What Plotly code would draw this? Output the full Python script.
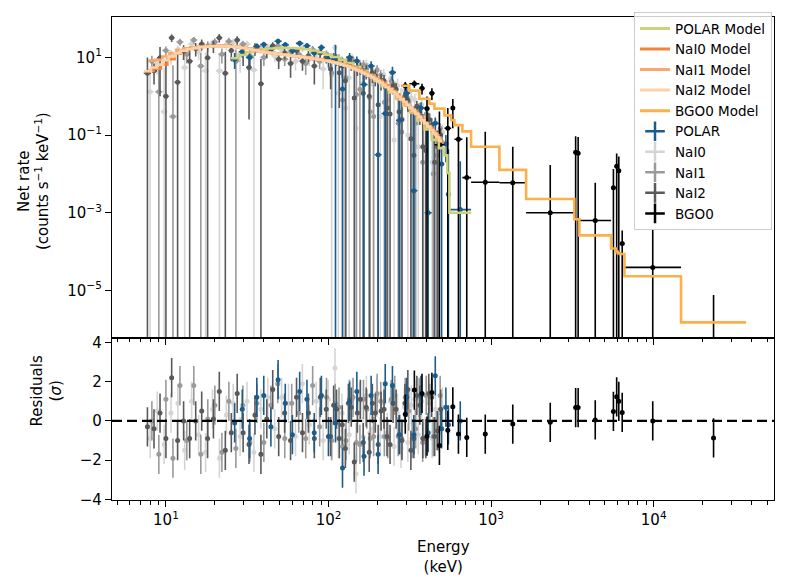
import plotly.graph_objects as go

# ---- data (rates in counts/s/keV, energies in keV) ----

# POLAR
polar_edges = [25, 28, 31, 34.5, 38, 42, 46.5, 51.5, 57, 63, 70, 77.5, 86, 95, 105, 116, 128,
               142, 157, 174, 192, 212, 235, 260, 288, 318, 352, 390, 431, 477, 516, 538, 554, 753]
polar_rate = [9, 14, 10, 19, 21.4, 16, 26, 21, 15, 23, 20, 13, 18, 9, 8.9, 1.53, 10, 8.1, 2.0, 6,
              0.031, 0.36, 4.1, 0.24, 1.2, 0.0037, 0.5, 0.001, 0.2, 0.018, 0.06, 0.003, 0.0012]
polar_err = [4, 4, 4, 3.5, 4, 3.5, 4, 3.5, 3.5, 4, 3.5, 3.5, 3.5, 3.5, 12, 8.3, 3, 2.5, 3.2, 2,
             2.8, 1.4, 1.6, 0.9, 0.5, 0.55, 0.2, 0.25, 0.08, 0.08, 0.04, 0.04, 0.02]
polar_model = [9.5, 11.5, 13.5, 15, 16.2, 17, 17.5, 17.7, 17.5, 17, 16.2, 15, 13.5, 11.8, 10.2,
               8.6, 7.1, 5.7, 4.5, 3.4, 2.5, 1.8, 1.25, 0.85, 0.58, 0.38, 0.24, 0.14, 0.075,
               0.046, 0.03, 0.0105, 0.001]
polar_resid = [-0.1, 0.6, -0.9, 1.2, 1.3, -0.3, 2.1, 0.9, -0.7, 1.5, 1.1, -0.6, 1.3, -0.8, -0.1,
               -2.4, 1.0, 1.5, -1.8, 1.3, -1.7, 1.9, 1.8, -0.7, 1.2, -0.7, 1.3, -0.6, 2.3, -0.4,
               0.7, -0.2, 0.0]

# NaI0
nai0_edges = [7.6, 8.4, 9.3, 10.2, 11.3, 12.4, 13.7, 15.1, 16.7, 18.4, 20.3, 22.4, 24.7, 27.2,
              30.0, 33.1, 36.5, 40.3, 44.4, 49.0, 54.0, 59.6, 65.7, 72.5, 80.0, 88.2, 97.3,
              102, 107, 112, 118, 124, 131, 137, 144, 151, 159, 167, 175, 184, 193, 203, 213,
              224, 235, 247, 259, 272, 286, 300, 315, 331, 348, 365, 383, 403, 423, 444, 466,
              490, 514]
nai0_rate = [1.3, 6.8, 0.4, 11, 16, 5.5, 22, 14, 4.5, 23, 4.5, 21, 24, 12, 22, 4.7, 17, 18, 11,
             16, 14, 8, 17, 9, 12, 5,
             11, 3.5, 18, 1.2, 8, 0.5, 3.0, 9, 0.15, 6.5, 2.2, 6.5, 0.9, 2.0, 4.5, 0.3, 3.6,
             0.8, 2.8, 0.074, 1.9, 0.45, 1.4, 0.1, 0.9, 0.8, 0.05, 0.6, 0.06, 0.33, 0.02, 0.2,
             0.04, 0.12]
nai0_err = [3.5, 3.2, 5.0, 4.5, 4.0, 6.5, 5.0, 5.5, 9, 6, 8, 6, 6, 8, 5, 7, 4.5, 4, 3.5, 3.5,
            3.2, 3.5, 3.5, 3, 3, 3.5,
            3, 4.5, 4, 6, 3, 5.5, 4, 3, 5.5, 2.5, 3.5, 2.5, 3.2, 3.0, 1.6, 3.0, 1.4, 1.8, 1.2,
            1.0, 0.9, 1.2, 0.7, 0.45, 0.5, 0.35, 0.5, 0.3, 0.25, 0.15, 0.2, 0.1, 0.12, 0.07]
nai0_model = [4.5, 5.2, 6.5, 9.0, 12.5, 15, 17, 18, 18.8, 19.3, 19.5, 19.3, 18.8, 18, 17, 15.6,
              14.2, 13.2, 12.4, 11.8, 11.2, 10.7, 10.2, 9.6, 9.0, 8.4,
              8.1, 7.9, 7.5, 7.2, 6.8, 6.5, 6.1, 5.7, 5.3, 4.9, 4.4, 4.0, 3.6, 3.2, 2.85, 2.5,
              2.2, 1.9, 1.6, 1.35, 1.12, 0.9, 0.73, 0.58, 0.48, 0.40, 0.33, 0.27, 0.21, 0.17,
              0.14, 0.11, 0.085, 0.068]
nai0_resid = [-0.9, 0.5, -1.2, 0.4, 0.9, -1.5, 1.0, -0.7, -1.6, 0.6, -1.9, 0.3, 0.9, -0.8, 1.0,
              -1.6, 0.6, 1.2, -0.4, 1.2, 0.9, -0.8, 1.9, -0.2, 1.0, -1.0,
              1.1, -1.0, 2.7, -0.9, 0.4, -1.2, -0.7, 1.1, -2.7, 1.0, -0.8, 1.3, -0.6, -0.4, 1.2,
              -0.8, 0.9, -0.6, 1.0, -1.3, 0.4, -1.4, 0.7, -1.1, 0.8, 1.1, -0.7, 1.0, -0.8, 1.1,
              -0.9, 0.6, -0.6, 0.7]

# NaI1
nai1_edges = [7.8, 8.6, 9.5, 10.5, 11.6, 12.8, 14.1, 15.6, 17.2, 19.0, 21.0, 23.2, 25.6, 28.3,
              31.2, 34.5, 38.1, 42.0, 46.4, 51.2, 56.5, 62.4, 68.9, 76.0, 83.9, 92.6, 102,
              107, 113, 119, 125, 131, 138, 145, 152, 160, 168, 176, 185, 194, 204, 215, 226,
              237, 249, 262, 275, 289, 304, 319, 335, 352, 370, 389, 409, 430, 451, 474, 498]
nai1_rate = [8, 1.3, 15, 0.3, 25, 12, 28, 6, 20, 25, 12, 26, 8, 22, 11, 19, 10, 16, 20, 9, 14,
             12, 7, 16, 8, 12,
             4, 10, 9, 0.8, 3, 8.5, 8, 1.1, 1.5, 6.5, 5, 0.4, 0.3, 4.8, 3.5, 0.7, 0.5, 2.4,
             1.8, 0.2, 0.12, 1.1, 0.7, 0.08, 0.2, 0.5, 0.02, 0.35, 0.25, 0.01, 0.03, 0.15]
nai1_err = [3, 3.5, 4, 6, 5, 5, 5.5, 7, 6, 6, 5, 6, 8, 5, 5, 4, 4, 3.5, 4, 3, 3, 3, 3.5, 3.5,
            3, 3,
            3.5, 3, 3, 4.5, 3, 2.5, 2.5, 3.5, 2.5, 2, 2, 3, 3, 1.5, 1.2, 1.8, 1.2, 0.8, 0.6,
            1.0, 0.6, 0.35, 0.3, 0.4, 0.25, 0.17, 0.2, 0.12, 0.1, 0.15, 0.1, 0.05]
nai1_model = [8.3, 8.6, 10.5, 13, 15.5, 17.2, 18.3, 19, 19.6, 20, 20.1, 19.8, 19.1, 18, 16.8,
              15.5, 14.3, 13.3, 12.5, 11.8, 11.2, 10.7, 10.2, 9.6, 9.0, 8.3,
              7.8, 7.4, 7.0, 6.6, 6.2, 5.8, 5.4, 5.0, 4.6, 4.2, 3.8, 3.4, 3.05, 2.7, 2.35, 2.05,
              1.75, 1.5, 1.25, 1.0, 0.84, 0.68, 0.56, 0.45, 0.37, 0.30, 0.24, 0.19, 0.155,
              0.125, 0.1, 0.08]
nai1_resid = [0.0, -1.7, 1.1, -1.9, 1.8, -1.0, 1.8, -1.7, 0.1, 0.8, -1.6, 1.0, -1.4, 0.8, -1.1,
              0.9, -1.1, 0.8, 1.9, -0.9, 0.9, 0.4, -0.9, 1.8, -0.3, 1.2,
              -1.0, 0.9, 0.7, -1.3, -1.0, 1.1, 1.2, -1.1, -1.2, 1.1, 0.6, -0.9, -0.8, 1.4, 1.0,
              -0.8, -0.9, 1.1, 1.3, -0.8, -0.9, 1.2, 0.5, -0.9, -0.4, 1.2, -1.1, 1.3, 0.9,
              -0.8, -0.5, 1.3]

# NaI2
nai2_edges = [7.3, 8.1, 8.8, 9.6, 10.4, 11.3, 12.3, 13.4, 14.6, 15.9, 17.3, 18.8, 20.4, 22.2,
              24.2, 26.3, 28.6, 31.1, 33.8, 36.8, 40.0, 43.5, 47.3, 51.5, 56.0, 60.9, 66.3,
              72.1, 78.4, 85.3, 92.8, 101,
              105, 110, 114, 119, 124, 130, 135, 141, 147, 154, 160, 167, 174, 182, 190, 198,
              206, 215, 224, 234, 244, 255, 266, 277, 289, 301, 314, 328, 342, 357, 372, 388,
              405, 422, 440, 459, 479, 500]
nai2_rate = [3.9, 4.5, 9.8, 1.0, 32, 2.3, 14.5, 8, 17, 22, 9.8, 20, 32, 3.9, 15, 28, 13, 5.5,
             17, 2.1, 14, 20, 9, 13, 7, 15, 8, 11, 6, 13, 10,
             5, 10, 9, 4, 6, 2.5, 8, 7, 0.9, 5.5, 5.5, 1.2, 4.5, 1.0, 4, 3.3, 0.6, 2.6, 2.5,
             0.5, 0.35, 1.9, 1.5, 0.4, 0.25, 1.0, 0.8, 0.08, 0.03, 0.55, 0.38, 0.05, 0.04,
             0.25, 0.18, 0.02, 0.05, 0.1]
nai2_err = [6, 2.5, 8.8, 8, 7, 10, 6, 9, 6.5, 7, 10, 7, 8, 10, 7, 7, 7, 5.25, 6, 7, 4.5, 4.5,
            4, 4, 4, 3.5, 3.5, 3.5, 4, 3.5, 3,
            3.5, 3, 3, 3.5, 3, 3.5, 2.5, 2.5, 4.5, 2.2, 2, 2.5, 1.8, 2.5, 1.8, 1.5, 1.8, 1.2,
            1.0, 1.5, 1.2, 0.8, 0.7, 0.8, 0.6, 0.4, 0.4, 0.5, 0.35, 0.2, 0.2, 0.3, 0.2, 0.12,
            0.09, 0.12, 0.08, 0.05]
nai2_model = [4.4, 5.5, 6.5, 8.5, 10.5, 12.8, 14.8, 16.2, 17.3, 18.2, 18.8, 19.2, 19.4, 19.3,
              18.9, 18.3, 17.4, 16.3, 15.2, 14.2, 13.4, 12.7, 12.1, 11.6, 11.1, 10.7, 10.2, 9.7,
              9.2, 8.7, 8.1,
              7.7, 7.4, 7.1, 6.8, 6.5, 6.1, 5.8, 5.4, 5.1, 4.7, 4.4, 4.0, 3.7, 3.35, 3.05, 2.75,
              2.45, 2.2, 1.95, 1.7, 1.5, 1.3, 1.12, 0.97, 0.83, 0.71, 0.6, 0.5, 0.42, 0.35,
              0.29, 0.24, 0.2, 0.165, 0.135, 0.11, 0.088, 0.07]
nai2_resid = [-0.3, -0.4, 0.4, -0.9, 2.2, -1.0, 0.0, -0.9, 0.0, 0.5, -0.9, 0.1, 1.5, -1.5, -0.6,
              1.4, -0.6, -1.2, 0.3, -1.7, 0.1, 1.6, -0.8, 0.4, -1.0, 1.2, -0.6, 0.4, -0.9, 1.2,
              0.6,
              -0.8, 0.8, 0.6, -0.9, -0.2, -1.4, 0.9, 0.7, -2.1, 0.4, 1.1, -1.1, 0.7, -1.6, 0.9,
              0.4, -1.2, 0.5, 0.6, -0.8, -1.2, 0.9, 0.6, -0.7, -1.0, 0.9, 1.6, -1.5, -0.9, 1.3,
              0.8, -0.9, -0.9, 1.4, 1.2, -0.8, -0.5, 0.6]

# BGO0
bgo0_edges = [280, 314, 362, 390, 417, 448, 516, 568, 595, 666, 753, 1125, 1641, 3252, 3370,
              3490, 5470, 5840, 6000, 6200, 6610, 14730, 37000]
bgo0_rate = [1.86, 2.1, 1.6, 0.48, 1.2, 0.056, 0.15, 0.5, 0.078, 0.008, 0.0061, 0.0059, 0.001,
             0.036, 0.034, 0.00063, 0.0044, 0.0157, 0.012, 0.00016, 0.000039, 3e-7]
bgo0_err = [0.45, 0.45, 0.5, 0.5, 0.4, 0.35, 0.35, 0.35, 0.09, 0.08, 0.115, 0.044, 0.016, 0.057,
            0.055, 0.0053, 0.009, 0.018, 0.016, 0.00019, 0.00033, 0.0000073]
bgo0_model = [1.86, 1.39, 0.86, 0.86, 0.64, 0.48, 0.32, 0.24, 0.18, 0.124, 0.05, 0.0127, 0.00225,
              0.00068, 0.00068, 0.00026, 0.00012, 0.0001, 0.00009, 0.000086, 0.000023, 0.0000015]
bgo0_resid = [0.34, 1.57, 1.4, -0.78, 1.45, -1.25, -0.48, 0.72, -0.67, -0.84, -0.67, -0.16,
              -0.07, 0.68, 0.68, 0.05, 0.48, 1.23, 1.0, 0.43, 0.0, -0.87]

# name, edges, rate, err, model, resid, data colour, model colour (legend order)
detectors = [
    ('POLAR', polar_edges, polar_rate, polar_err, polar_model, polar_resid, '#1b5c8b', '#cdd17c'),
    ('NaI0', nai0_edges, nai0_rate, nai0_err, nai0_model, nai0_resid, '#d4d4d4', '#f4843c'),
    ('NaI1', nai1_edges, nai1_rate, nai1_err, nai1_model, nai1_resid, '#9a9a9a', '#fba66a'),
    ('NaI2', nai2_edges, nai2_rate, nai2_err, nai2_model, nai2_resid, '#595959', '#fdd1a6'),
    ('BGO0', bgo0_edges, bgo0_rate, bgo0_err, bgo0_model, bgo0_resid, '#000000', '#fcb04c'),
]
# drawing order: the NaI clouds underneath, POLAR and BGO on top
draw_order = [1, 2, 3, 0, 4]

fig = go.Figure()

for i in draw_order:
    name, edges, rate, err, model, resid, dcol, mcol = detectors[i]
    n = len(edges) - 1
    assert len(rate) == len(err) == len(model) == len(resid) == n, (
        name, n, len(rate), len(err), len(model), len(resid))
    x = [(lo * hi) ** 0.5 for lo, hi in zip(edges[:-1], edges[1:])]
    xlo = [c - lo for c, lo in zip(x, edges[:-1])]
    xhi = [hi - c for c, hi in zip(x, edges[1:])]
    fig.add_trace(go.Scatter(
        x=x, y=rate, mode='markers', xaxis='x', yaxis='y', showlegend=False,
        marker=dict(color=dcol, size=5),
        error_x=dict(type='data', symmetric=False, array=xhi, arrayminus=xlo,
                     color=dcol, thickness=1.6, width=0),
        error_y=dict(type='data', array=err, color=dcol, thickness=1.6, width=0)))
    fig.add_trace(go.Scatter(
        x=x, y=resid, mode='markers', xaxis='x2', yaxis='y2', showlegend=False,
        marker=dict(color=dcol, size=5),
        error_y=dict(type='constant', value=1, color=dcol, thickness=1.6, width=0)))

# model step lines on top of the data
for name, edges, rate, err, model, resid, dcol, mcol in detectors:
    fig.add_trace(go.Scatter(
        x=edges, y=model + [model[-1]], mode='lines', xaxis='x', yaxis='y',
        showlegend=False, line=dict(color=mcol, width=2.6, shape='hv')))

# legend entries (models first, then data, like matplotlib does)
for name, edges, rate, err, model, resid, dcol, mcol in detectors:
    fig.add_trace(go.Scatter(x=[None], y=[None], mode='lines', name=name + ' Model',
                             line=dict(color=mcol, width=3)))
for name, edges, rate, err, model, resid, dcol, mcol in detectors:
    fig.add_trace(go.Scatter(x=[None], y=[None], mode='markers', name=name,
                             marker=dict(symbol='cross-thin', size=14, color=dcol,
                                         line=dict(width=2.5, color=dcol))))

minor_x = [m * 10 ** k for k in range(0, 5) for m in range(2, 10)]
axis_style = dict(showline=True, linecolor='black', linewidth=1.3, mirror=True,
                  ticks='outside', ticklen=6, tickwidth=1.3, tickcolor='black',
                  showgrid=False, zeroline=False, tickfont=dict(size=15, color='black'))
x_ticks = dict(type='log', range=[0.668, 4.74], tickmode='array',
               tickvals=[10, 100, 1000, 10000],
               ticktext=['10<sup>1</sup>', '10<sup>2</sup>', '10<sup>3</sup>', '10<sup>4</sup>'],
               minor=dict(tickmode='array', tickvals=minor_x, ticks='outside', ticklen=3.5,
                          tickwidth=1, tickcolor='black'))

fig.update_layout(
    width=788, height=587,
    margin=dict(l=112, r=14, t=12, b=87),
    paper_bgcolor='white', plot_bgcolor='white',
    font=dict(family='DejaVu Sans', size=15, color='black'),
    xaxis=dict(anchor='y', showticklabels=False, **x_ticks, **axis_style),
    xaxis2=dict(anchor='y2', matches='x', **x_ticks, **axis_style),
    yaxis=dict(anchor='x', domain=[0.336, 1], type='log', range=[-6.22, 2.04],
               tickmode='array', tickvals=[10, 0.1, 1e-3, 1e-5],
               ticktext=['10<sup>1</sup>', '10<sup>\u22121</sup>', '10<sup>\u22123</sup>',
                         '10<sup>\u22125</sup>'], **axis_style),
    yaxis2=dict(anchor='x2', domain=[0, 0.336], range=[-4.03, 4.24],
                tickmode='array', tickvals=[-4, -2, 0, 2, 4],
                ticktext=['\u22124', '\u22122', '0', '2', '4'], **axis_style),
    legend=dict(x=0.997, y=1.01, xanchor='right', yanchor='top',
                bgcolor='rgba(255,255,255,0.8)', bordercolor='#cccccc', borderwidth=1,
                font=dict(size=13.5), tracegroupgap=0),
    shapes=[dict(type='line', xref='x2 domain', yref='y2', x0=0, x1=1, y0=0, y1=0,
                 line=dict(color='black', width=2.4, dash='10px,5px'), layer='above')],
    annotations=[
        dict(text='Net rate<br>(counts s<sup>\u22121</sup> keV<sup>\u22121</sup>)',
             xref='paper', yref='paper', x=-0.118, y=0.66, textangle=-90,
             xanchor='center', yanchor='middle', showarrow=False, font=dict(size=15)),
        dict(text='Residuals<br>(<i>\u03c3</i>)',
             xref='paper', yref='paper', x=-0.098, y=0.225, textangle=-90,
             xanchor='center', yanchor='middle', showarrow=False, font=dict(size=15)),
        dict(text='Energy<br>(keV)', xref='paper', yref='paper', x=0.5, y=-0.117,
             xanchor='center', yanchor='middle', showarrow=False, font=dict(size=15)),
    ],
)

fig.write_html('out.html', config={'displayModeBar': False},
               post_script="document.body.style.margin='0';")
